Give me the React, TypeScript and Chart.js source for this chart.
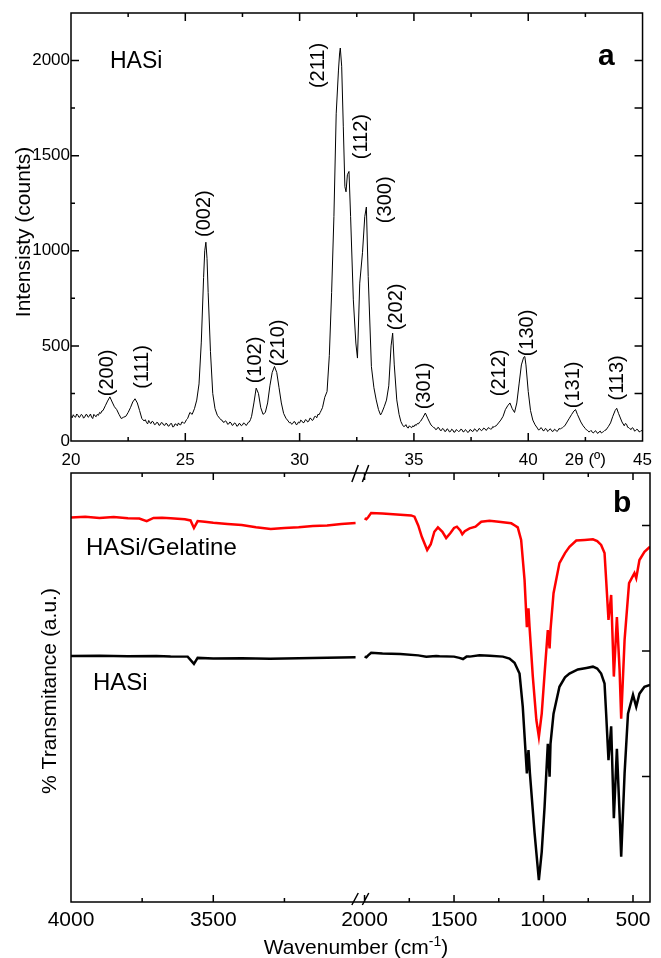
import React, { useEffect, useRef } from 'react';
import { Chart, registerables } from 'chart.js';

Chart.register(...registerables);

const FONT = "'Liberation Sans', Arial, Helvetica, sans-serif";

// ---------------- Panel a : XRD ----------------
const xrdAngle = [
  20.00, 20.05, 20.10, 20.15, 20.20, 20.25, 20.30, 20.35, 20.40, 20.45,
  20.50, 20.55, 20.60, 20.65, 20.70, 20.75, 20.80, 20.85, 20.90, 20.95,
  21.00, 21.05, 21.10, 21.15, 21.20, 21.25, 21.30, 21.35, 21.4, 21.5,
  21.6, 21.7, 21.8, 21.9, 22.0, 22.1, 22.2, 22.3, 22.4, 22.5,
  22.6, 22.7, 22.8, 22.9, 23.0, 23.1, 23.20, 23.25, 23.30, 23.35,
  23.40, 23.45, 23.50, 23.55, 23.60, 23.65, 23.70, 23.75, 23.80, 23.85,
  23.90, 23.95, 24.00, 24.05, 24.10, 24.15, 24.20, 24.25, 24.30, 24.35,
  24.40, 24.45, 24.50, 24.55, 24.60, 24.65, 24.70, 24.75, 24.80, 24.85,
  24.90, 24.95, 25.00, 25.05, 25.1, 25.2, 25.3, 25.4, 25.5, 25.6,
  25.7, 25.8, 25.85, 25.9, 25.95, 26.0, 26.1, 26.2, 26.3, 26.4,
  26.50, 26.55, 26.60, 26.65, 26.70, 26.75, 26.80, 26.85, 26.90, 26.95,
  27.00, 27.05, 27.10, 27.15, 27.20, 27.25, 27.30, 27.35, 27.40, 27.45,
  27.50, 27.55, 27.60, 27.65, 27.70, 27.75, 27.80, 27.85, 27.9, 28.0,
  28.1, 28.2, 28.3, 28.4, 28.5, 28.6, 28.7, 28.8, 28.9, 29.0,
  29.1, 29.2, 29.3, 29.4, 29.50, 29.55, 29.60, 29.65, 29.70, 29.75,
  29.80, 29.85, 29.90, 29.95, 30.00, 30.05, 30.10, 30.15, 30.20, 30.25,
  30.30, 30.35, 30.40, 30.45, 30.50, 30.55, 30.60, 30.65, 30.70, 30.75,
  30.80, 30.85, 30.90, 30.95, 31.0, 31.1, 31.2, 31.3, 31.4, 31.5,
  31.6, 31.7, 31.75, 31.78, 31.84, 31.91, 31.98, 32.03, 32.09, 32.16,
  32.23, 32.35, 32.46, 32.53, 32.63, 32.75, 32.85, 32.92, 33.0, 33.14,
  33.25, 33.35, 33.45, 33.54, 33.6, 33.7, 33.8, 33.9, 34.0, 34.07,
  34.14, 34.25, 34.35, 34.43, 34.50, 34.55, 34.60, 34.65, 34.70, 34.75,
  34.80, 34.85, 34.90, 34.95, 35.00, 35.05, 35.10, 35.15, 35.20, 35.25,
  35.3, 35.4, 35.5, 35.6, 35.70, 35.75, 35.80, 35.85, 35.90, 35.95,
  36.00, 36.05, 36.10, 36.15, 36.20, 36.25, 36.30, 36.35, 36.40, 36.45,
  36.50, 36.55, 36.60, 36.65, 36.70, 36.75, 36.80, 36.85, 36.90, 36.95,
  37.00, 37.05, 37.10, 37.15, 37.20, 37.25, 37.30, 37.35, 37.40, 37.45,
  37.50, 37.55, 37.60, 37.65, 37.70, 37.75, 37.80, 37.85, 37.90, 37.95,
  38.00, 38.05, 38.10, 38.15, 38.20, 38.25, 38.30, 38.35, 38.40, 38.45,
  38.50, 38.55, 38.6, 38.7, 38.8, 38.9, 39.0, 39.1, 39.2, 39.3,
  39.4, 39.5, 39.6, 39.7, 39.8, 39.85, 39.9, 40.0, 40.1, 40.2,
  40.3, 40.40, 40.45, 40.50, 40.55, 40.60, 40.65, 40.70, 40.75, 40.80,
  40.85, 40.90, 40.95, 41.00, 41.05, 41.10, 41.15, 41.20, 41.25, 41.30,
  41.35, 41.40, 41.45, 41.50, 41.55, 41.6, 41.7, 41.8, 41.9, 42.0,
  42.07, 42.15, 42.3, 42.4, 42.50, 42.55, 42.60, 42.65, 42.70, 42.75,
  42.80, 42.85, 42.90, 42.95, 43.00, 43.05, 43.10, 43.15, 43.20, 43.25,
  43.30, 43.35, 43.40, 43.5, 43.6, 43.7, 43.8, 43.87, 43.95, 44.1,
  44.20, 44.25, 44.30, 44.35, 44.40, 44.45, 44.50, 44.55, 44.60, 44.65,
  44.70, 44.75, 44.80, 44.85, 44.90, 44.95, 45.00,
];
const xrdCounts = [
  130, 122, 138, 128, 125, 142, 136, 124, 128, 140,
  135, 120, 126, 139, 138, 125, 130, 142, 126, 118,
  140, 132, 128, 140, 135, 150, 145, 158, 160, 185,
  210, 232, 205, 180, 165, 140, 118, 125, 130, 150,
  175, 205, 222, 200, 160, 118, 105, 112, 98, 90,
  108, 96, 92, 104, 100, 86, 88, 98, 96, 82,
  85, 97, 95, 84, 82, 93, 90, 78, 80, 91,
  92, 74, 76, 90, 88, 80, 95, 86, 85, 100,
  98, 92, 100, 112, 118, 150, 140, 170, 215, 300,
  520, 860, 1000, 1045, 960, 780, 470, 250, 170, 135,
  120, 112, 110, 100, 98, 106, 102, 88, 90, 100,
  95, 82, 85, 95, 92, 78, 80, 92, 90, 80,
  84, 95, 92, 82, 86, 98, 100, 112, 130, 200,
  278, 250, 175, 140, 150, 200, 290, 360, 392, 360,
  280, 200, 145, 120, 105, 96, 98, 88, 92, 102,
  100, 86, 88, 100, 95, 110, 105, 96, 98, 112,
  110, 100, 104, 120, 118, 108, 112, 128, 130, 122,
  140, 138, 150, 162, 175, 230, 260, 450, 780, 1180,
  1720, 1950, 2040, 2066, 1970, 1655, 1337, 1310, 1400, 1417,
  1180, 742, 515, 436, 830, 990, 1180, 1230, 865, 391,
  280, 216, 165, 137, 150, 180, 215, 290, 500, 567,
  400, 216, 140, 102, 85, 76, 78, 86, 72, 68,
  80, 74, 70, 80, 75, 86, 82, 92, 90, 100,
  105, 125, 147, 120, 95, 84, 78, 72, 70, 60,
  62, 72, 68, 56, 55, 66, 62, 50, 52, 64,
  60, 48, 50, 62, 58, 46, 48, 60, 56, 50,
  52, 62, 60, 48, 50, 60, 55, 45, 48, 60,
  58, 50, 52, 64, 60, 50, 55, 66, 62, 54,
  58, 68, 65, 56, 60, 70, 68, 62, 64, 76,
  72, 78, 80, 95, 110, 130, 165, 185, 200, 170,
  150, 200, 300, 400, 440, 444, 400, 260, 160, 110,
  85, 68, 58, 60, 70, 66, 54, 55, 66, 62,
  50, 56, 64, 60, 50, 52, 62, 58, 50, 55,
  66, 62, 68, 70, 76, 80, 100, 120, 140, 158,
  165, 140, 100, 80, 65, 58, 55, 48, 50, 56,
  46, 42, 50, 54, 44, 40, 48, 52, 42, 46,
  50, 56, 58, 75, 95, 130, 160, 172, 145, 100,
  80, 92, 88, 72, 70, 64, 60, 70, 66, 52,
  55, 62, 58, 48, 50, 56, 48,
];

const peakLabels = ['(200)', '(111)', '(002)', '(102)', '(210)', '(211)', '(112)', '(300)', '(202)', '(301)', '(212)', '(130)', '(131)', '(113)'];
const peakLabelAngle = [21.6, 23.15, 25.88, 28.08, 29.12, 30.85, 32.71, 33.79, 34.25, 35.47, 38.76, 39.97, 42.0, 43.94];
const peakLabelCount = [358, 389, 1195, 426, 516, 1974, 1600, 1268, 705, 289, 358, 568, 295, 332];

const xrdMajorTicks = [25, 30, 35, 40];
const xrdMinorTicks = [22.5, 27.5, 32.5, 37.5, 42.5];
const countMajorTicks = [500, 1000, 1500, 2000];
const countMinorTicks = [250, 750, 1250, 1750];

// ---------------- Panel b : FTIR ----------------
const gelHighWn = [4000, 3950, 3900, 3850, 3800, 3760, 3734, 3710, 3680, 3650, 3600, 3580, 3568, 3555, 3530, 3500, 3450, 3400, 3350, 3298, 3250, 3200, 3150, 3100, 3050, 3000];
const gelHighT = [3.064, 3.07, 3.06, 3.068, 3.058, 3.055, 3.035, 3.06, 3.062, 3.058, 3.05, 3.04, 2.98, 3.035, 3.03, 3.022, 3.012, 3.004, 2.985, 2.972, 2.98, 2.985, 2.995, 3.0, 3.012, 3.02];
const gelLowWn = [2000, 1990, 1980, 1963, 1900, 1800, 1740, 1721, 1700, 1680, 1650, 1630, 1610, 1590, 1565, 1544, 1520, 1500, 1484, 1465, 1454, 1440, 1413, 1380, 1348, 1302, 1250, 1180, 1160, 1144, 1125, 1106, 1093, 1084, 1078, 1060, 1040, 1026, 1010, 994, 976, 966, 961, 944, 911, 880, 855, 817, 770, 724, 700, 678, 659, 650, 637, 622, 607, 590, 575, 566, 547, 522, 492, 482, 464, 436, 405];
const gelLowT = [3.057, 3.05, 3.065, 3.1, 3.095, 3.085, 3.08, 3.07, 3.0, 2.91, 2.805, 2.85, 2.95, 2.985, 2.95, 2.9, 2.94, 2.98, 2.99, 2.96, 2.93, 2.955, 2.977, 2.99, 3.03, 3.037, 3.03, 3.017, 3.0, 2.985, 2.885, 2.566, 2.19, 2.34, 2.19, 1.8, 1.45, 1.317, 1.5, 1.82, 2.167, 2.02, 2.167, 2.46, 2.7, 2.78, 2.83, 2.88, 2.885, 2.89, 2.875, 2.845, 2.78, 2.566, 2.247, 2.446, 1.796, 2.27, 1.85, 1.46, 2.088, 2.54, 2.62, 2.58, 2.725, 2.79, 2.83];

const hasiHighWn = [4000, 3900, 3800, 3700, 3650, 3590, 3568, 3555, 3500, 3400, 3300, 3200, 3100, 3000];
const hasiHighT = [1.96, 1.962, 1.958, 1.96, 1.956, 1.955, 1.897, 1.945, 1.94, 1.942, 1.938, 1.942, 1.946, 1.95];
const hasiLowWn = [2000, 1990, 1980, 1963, 1900, 1800, 1700, 1655, 1600, 1581, 1500, 1470, 1450, 1430, 1413, 1358, 1300, 1227, 1190, 1162, 1134, 1116, 1093, 1084, 1076, 1050, 1026, 1010, 994, 976, 966, 961, 944, 911, 880, 855, 808, 760, 724, 700, 678, 659, 650, 637, 622, 607, 590, 575, 566, 547, 528, 500, 482, 464, 436, 405];
const hasiLowT = [1.955, 1.95, 1.965, 1.986, 1.98, 1.975, 1.965, 1.955, 1.96, 1.958, 1.955, 1.945, 1.936, 1.955, 1.955, 1.965, 1.962, 1.955, 1.94, 1.906, 1.82, 1.556, 1.025, 1.21, 1.025, 0.55, 0.175, 0.4, 0.76, 1.26, 0.998, 1.26, 1.5, 1.715, 1.79, 1.82, 1.853, 1.865, 1.875, 1.86, 1.82, 1.74, 1.5, 1.13, 1.4, 0.667, 1.22, 0.7, 0.36, 1.025, 1.5, 1.65, 1.556, 1.66, 1.715, 1.73];

const wnTickLabels = [4000, 3500, 2000, 1500, 1000, 500];
const wnMajorTicks = [3500, 2000, 1500, 1000, 500];
const wnMinorTicks = [3750, 3250, 1750, 1250, 750];
const transTicks = [1, 2, 3];

// broken axis: high-wavenumber segment and low-wavenumber segment
const HIGH_START = 4000;
const HIGH_END = 3000;
const LOW_START = 2000;
const LOW_END = 405;
const HIGH_FRACTION = 0.4915;
const LOW_FRACTION_START = 0.507;

function toU(w: number): number {
  if (w >= HIGH_END) {
    return ((HIGH_START - w) / (HIGH_START - HIGH_END)) * HIGH_FRACTION * 1000;
  }
  return (LOW_FRACTION_START + ((LOW_START - w) / (LOW_START - LOW_END)) * (1 - LOW_FRACTION_START)) * 1000;
}

function ftirData(highWn: number[], highT: number[], lowWn: number[], lowT: number[]) {
  const pts: { x: number; y: number | null }[] = [];
  highWn.forEach((w, i) => pts.push({ x: toU(w), y: highT[i] }));
  pts.push({ x: (toU(HIGH_END) + toU(LOW_START)) / 2, y: null });
  lowWn.forEach((w, i) => pts.push({ x: toU(w), y: lowT[i] }));
  return pts;
}

function seg(ctx: CanvasRenderingContext2D, x1: number, y1: number, x2: number, y2: number) {
  ctx.moveTo(x1, y1);
  ctx.lineTo(x2, y2);
}

const xrdDecor = {
  id: 'xrdDecor',
  afterDraw(chart: any) {
    const { ctx, chartArea: ca, scales } = chart;
    const x = scales.x;
    const y = scales.y;
    ctx.save();
    ctx.strokeStyle = '#000';
    ctx.lineWidth = 1.5;
    ctx.strokeRect(ca.left, ca.top, ca.right - ca.left, ca.bottom - ca.top);
    ctx.beginPath();
    xrdMajorTicks.forEach((v) => {
      const p = x.getPixelForValue(v);
      seg(ctx, p, ca.bottom, p, ca.bottom - 8);
      seg(ctx, p, ca.top, p, ca.top + 8);
    });
    xrdMinorTicks.forEach((v) => {
      const p = x.getPixelForValue(v);
      seg(ctx, p, ca.bottom, p, ca.bottom - 4);
      seg(ctx, p, ca.top, p, ca.top + 4);
    });
    countMajorTicks.forEach((v) => {
      const p = y.getPixelForValue(v);
      seg(ctx, ca.left, p, ca.left + 8, p);
      seg(ctx, ca.right, p, ca.right - 8, p);
    });
    countMinorTicks.forEach((v) => {
      const p = y.getPixelForValue(v);
      seg(ctx, ca.left, p, ca.left + 4, p);
      seg(ctx, ca.right, p, ca.right - 8, p);
    });
    ctx.stroke();

    ctx.fillStyle = '#000';
    ctx.font = `20px ${FONT}`;
    ctx.textAlign = 'center';
    ctx.textBaseline = 'alphabetic';
    peakLabels.forEach((t, i) => {
      ctx.save();
      ctx.translate(x.getPixelForValue(peakLabelAngle[i]) + 5, y.getPixelForValue(peakLabelCount[i]));
      ctx.rotate(-Math.PI / 2);
      ctx.fillText(t, 0, 0);
      ctx.restore();
    });
    ctx.textAlign = 'left';
    ctx.font = `23px ${FONT}`;
    ctx.fillText('HASi', 110, 68);
    ctx.font = `bold 30px ${FONT}`;
    ctx.fillText('a', 598, 65);
    ctx.font = `21px ${FONT}`;
    ctx.textAlign = 'center';
    ctx.save();
    ctx.translate(30, 232);
    ctx.rotate(-Math.PI / 2);
    ctx.fillText('Intensisty (counts)', 0, 0);
    ctx.restore();
    ctx.restore();
  },
};

const ftirDecor = {
  id: 'ftirDecor',
  afterDraw(chart: any) {
    const { ctx, chartArea: ca, scales } = chart;
    const x = scales.x;
    const y = scales.y;
    ctx.save();
    ctx.strokeStyle = '#000';
    ctx.lineWidth = 1.5;
    ctx.strokeRect(ca.left, ca.top, ca.right - ca.left, ca.bottom - ca.top);
    ctx.beginPath();
    wnMajorTicks.forEach((w) => {
      const p = x.getPixelForValue(toU(w));
      seg(ctx, p, ca.bottom, p, ca.bottom - 7);
      seg(ctx, p, ca.top, p, ca.top + 7);
    });
    wnMinorTicks.forEach((w) => {
      const p = x.getPixelForValue(toU(w));
      seg(ctx, p, ca.bottom, p, ca.bottom - 4);
      seg(ctx, p, ca.top, p, ca.top + 4);
    });
    transTicks.forEach((v) => {
      const p = y.getPixelForValue(v);
      seg(ctx, ca.right, p, ca.right - 8, p);
    });
    const bp = x.getPixelForValue((toU(HIGH_END) + toU(LOW_START)) / 2);
    [bp - 5, bp + 5.5].forEach((c) => {
      seg(ctx, c - 3.2, ca.top + 9, c + 3.2, ca.top - 8);
      seg(ctx, c - 3.2, ca.bottom + 3, c + 3.2, ca.bottom - 9);
    });
    ctx.stroke();

    ctx.fillStyle = '#000';
    ctx.textBaseline = 'alphabetic';
    ctx.textAlign = 'left';
    ctx.font = `24px ${FONT}`;
    ctx.fillText('HASi/Gelatine', 86, 93);
    ctx.fillText('HASi', 93, 228);
    ctx.font = `bold 30px ${FONT}`;
    ctx.fillText('b', 613, 50);

    ctx.font = `21px ${FONT}`;
    ctx.textAlign = 'center';
    ctx.save();
    ctx.translate(55.5, 229);
    ctx.rotate(-Math.PI / 2);
    ctx.fillText('% Transmitance (a.u.)', 0, 0);
    ctx.restore();

    const main = 'Wavenumber (cm';
    const sup = '-1';
    const close = ')';
    ctx.font = `21px ${FONT}`;
    const wMain = ctx.measureText(main).width;
    const wClose = ctx.measureText(close).width;
    ctx.font = `14px ${FONT}`;
    const wSup = ctx.measureText(sup).width;
    const total = wMain + wSup + wClose;
    const startX = 356 - total / 2;
    const base = 491.5;
    ctx.textAlign = 'left';
    ctx.font = `21px ${FONT}`;
    ctx.fillText(main, startX, base);
    ctx.font = `14px ${FONT}`;
    ctx.fillText(sup, startX + wMain, base - 8);
    ctx.font = `21px ${FONT}`;
    ctx.fillText(close, startX + wMain + wSup, base);
    ctx.restore();
  },
};

export default function App() {
  const aRef = useRef<HTMLCanvasElement>(null);
  const bRef = useRef<HTMLCanvasElement>(null);

  useEffect(() => {
    const chartA = new Chart(aRef.current as HTMLCanvasElement, {
      type: 'line',
      data: {
        datasets: [
          {
            data: xrdAngle.map((a, i) => ({ x: a, y: xrdCounts[i] })),
            borderColor: '#000',
            borderWidth: 1,
            pointRadius: 0,
            tension: 0,
            fill: false,
          },
        ],
      },
      options: {
        animation: false,
        responsive: false,
        events: [],
        layout: { padding: { top: 13, right: 11, left: 0, bottom: 0 } },
        plugins: { legend: { display: false }, tooltip: { enabled: false } },
        scales: {
          x: {
            type: 'linear',
            position: 'bottom',
            min: 20,
            max: 45,
            grid: { display: false, drawTicks: false },
            border: { display: false },
            ticks: {
              stepSize: 2.5,
              autoSkip: false,
              maxRotation: 0,
              padding: 9,
              color: '#000',
              font: { family: FONT, size: 17, lineHeight: 1.2 },
              callback: (v: any) => {
                const n = Number(v);
                if (Math.abs(n - 42.5) < 1e-6) return '2θ (º)';
                return n % 5 === 0 ? String(n) : '';
              },
            },
            afterFit: (s: any) => {
              s.height = 31;
            },
          },
          y: {
            type: 'linear',
            position: 'left',
            min: 0,
            max: 2250,
            grid: { display: false, drawTicks: false },
            border: { display: false },
            ticks: {
              stepSize: 250,
              includeBounds: false,
              padding: 1,
              color: '#000',
              font: { family: FONT, size: 17, lineHeight: 1.2 },
              callback: (v: any) => (Number(v) % 500 === 0 ? String(v) : ''),
            },
            afterFit: (s: any) => {
              s.width = 71;
            },
          },
        },
      } as any,
      plugins: [xrdDecor],
    });

    const chartB = new Chart(bRef.current as HTMLCanvasElement, {
      type: 'line',
      data: {
        datasets: [
          {
            label: 'HASi/Gelatine',
            data: ftirData(gelHighWn, gelHighT, gelLowWn, gelLowT),
            borderColor: '#ff0000',
            borderWidth: 2.5,
            pointRadius: 0,
            tension: 0,
            spanGaps: false,
            fill: false,
          },
          {
            label: 'HASi',
            data: ftirData(hasiHighWn, hasiHighT, hasiLowWn, hasiLowT),
            borderColor: '#000',
            borderWidth: 2.5,
            pointRadius: 0,
            tension: 0,
            spanGaps: false,
            fill: false,
          },
        ],
      },
      options: {
        animation: false,
        responsive: false,
        events: [],
        layout: { padding: { top: 11, right: 11, left: 0, bottom: 0 } },
        plugins: { legend: { display: false }, tooltip: { enabled: false } },
        scales: {
          x: {
            type: 'linear',
            position: 'bottom',
            min: 0,
            max: 1000,
            grid: { display: false, drawTicks: false },
            border: { display: false },
            afterBuildTicks: (s: any) => {
              s.ticks = wnTickLabels.map((w) => ({ value: toU(w) }));
            },
            ticks: {
              autoSkip: false,
              maxRotation: 0,
              padding: 6,
              color: '#000',
              font: { family: FONT, size: 21, lineHeight: 1.2 },
              callback: (_v: any, i: number) => String(wnTickLabels[i]),
            },
            afterFit: (s: any) => {
              s.height = 56;
            },
          },
          y: {
            type: 'linear',
            position: 'left',
            min: 0,
            max: 3.418,
            grid: { display: false, drawTicks: false },
            border: { display: false },
            ticks: { display: false },
            afterFit: (s: any) => {
              s.width = 71;
            },
          },
        },
      } as any,
      plugins: [ftirDecor],
    });

    return () => {
      chartA.destroy();
      chartB.destroy();
    };
  }, []);

  return (
    <div style={{ position: 'absolute', left: 0, top: 0, width: 661, height: 958, background: '#fff', overflow: 'hidden' }}>
      <canvas ref={aRef} width={661} height={472} style={{ position: 'absolute', left: 0, top: 0, width: 661, height: 472 }} />
      <canvas ref={bRef} width={661} height={496} style={{ position: 'absolute', left: 0, top: 462, width: 661, height: 496 }} />
    </div>
  );
}
